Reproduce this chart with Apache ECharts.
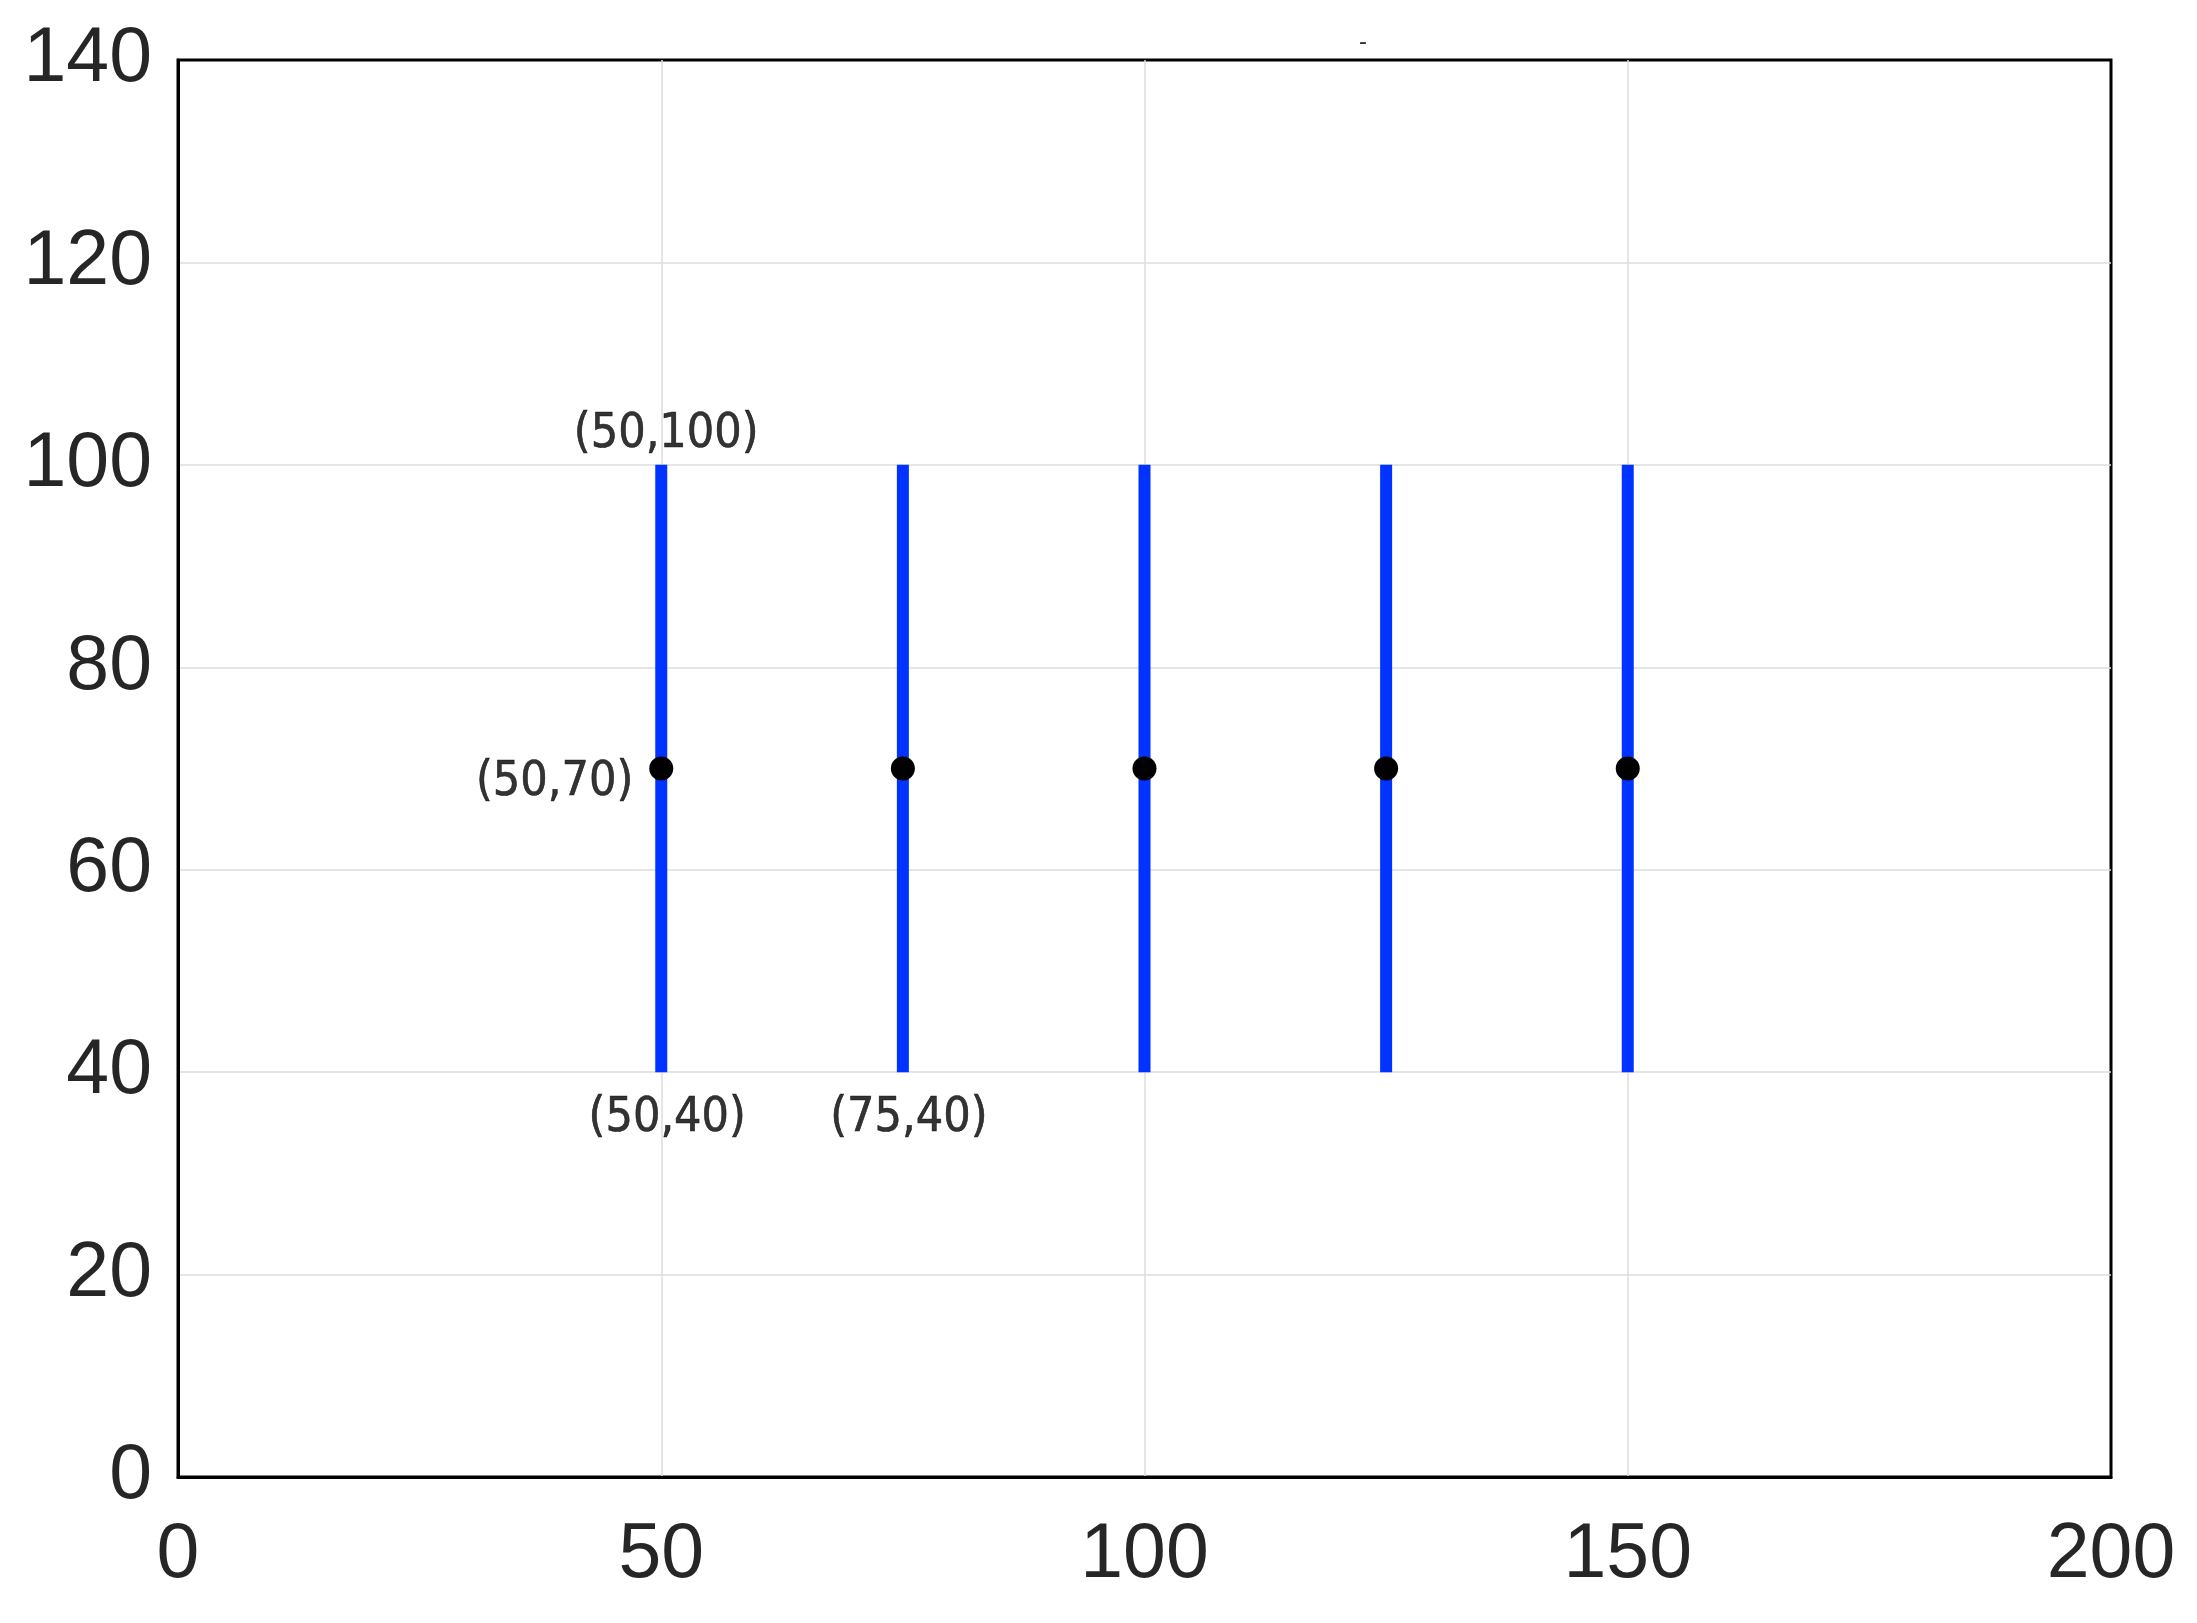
<!DOCTYPE html>
<html>
<head>
<meta charset="utf-8">
<script src="https://cdn.jsdelivr.net/npm/echarts@6/dist/echarts.min.js"></script>
<style>html,body{margin:0;padding:0;background:#fff}#c{width:2197px;height:1623px}</style>
</head>
<body>
<div id="c"></div>
<script>
// ---- data ----
const xValues = [50, 75, 100, 125, 150];
const lowValues = [40, 40, 40, 40, 40];
const midValues = [70, 70, 70, 70, 70];
const highValues = [100, 100, 100, 100, 100];
const xTicks = [0, 50, 100, 150, 200];
const yTicks = [0, 20, 40, 60, 80, 100, 120, 140];
// annotations: [x, y, text]
const annotTop = [[50, 100, '(50,100)']];
const annotLeft = [[50, 70, '(50,70)']];
const annotBottom = [[50, 40, '(50,40)'], [75, 40, '(75,40)']];

const segData = xValues.map((x, i) => [x, lowValues[i], highValues[i]]);
const dotData = xValues.map((x, i) => [x, midValues[i]]);

const annFont = { fontFamily: '"DejaVu Sans Condensed", "DejaVu Sans"', fontSize: 48, color: '#000',
  textBorderColor: '#000', textBorderWidth: 0.6 };

const chart = echarts.init(document.getElementById('c'), null, { renderer: 'canvas' });
chart.setOption({
  animation: false,
  backgroundColor: '#fff',
  title: {
    text: '-', left: 1354, top: 25,
    textStyle: { fontSize: 24, color: '#333', fontWeight: 'normal', fontFamily: 'Liberation Sans' }
  },
  grid: {
    left: 178, right: 86, top: 60, bottom: 146,
    show: true, borderColor: '#000', borderWidth: 3, backgroundColor: 'transparent'
  },
  xAxis: {
    type: 'value', min: xTicks[0], max: xTicks[xTicks.length - 1], interval: 50,
    axisLine: { show: true, lineStyle: { color: '#000', width: 3 } },
    axisTick: { show: false },
    splitLine: { show: true, showMinLine: false, showMaxLine: false, lineStyle: { color: '#dcdcdc', width: 1.5 } },
    axisLabel: { fontFamily: 'Liberation Sans', fontSize: 77, color: '#262626', margin: 40,
      formatter: v => xTicks.includes(v) ? String(v) : '' }
  },
  yAxis: {
    type: 'value', min: yTicks[0], max: yTicks[yTicks.length - 1], interval: 20,
    axisLine: { show: true, lineStyle: { color: '#000', width: 3 } },
    axisTick: { show: false },
    splitLine: { show: true, showMinLine: false, showMaxLine: false, lineStyle: { color: '#dcdcdc', width: 1.5 } },
    axisLabel: { fontFamily: 'Liberation Sans', fontSize: 77, color: '#262626', margin: 26,
      formatter: v => yTicks.includes(v) ? String(v) : '' }
  },
  series: [
    {
      type: 'custom',
      data: segData,
      encode: { x: 0, y: [1, 2] },
      renderItem: function (params, api) {
        const p1 = api.coord([api.value(0), api.value(1)]);
        const p2 = api.coord([api.value(0), api.value(2)]);
        return {
          type: 'line',
          shape: { x1: p1[0], y1: p1[1], x2: p2[0], y2: p2[1] },
          style: { stroke: '#0033ff', lineWidth: 12 }
        };
      },
      z: 3
    },
    {
      type: 'scatter',
      data: dotData,
      symbol: 'circle',
      symbolSize: 24,
      itemStyle: { color: '#000', opacity: 1 },
      z: 4
    },
    {
      type: 'scatter', data: annotTop, symbolSize: 0,
      label: { show: true, position: 'top', distance: 6, offset: [5, 0],
        formatter: p => p.data[2], ...annFont },
      z: 5
    },
    {
      type: 'scatter', data: annotLeft, symbolSize: 0,
      label: { show: true, position: 'left', distance: 28, offset: [0, 14],
        formatter: p => p.data[2], ...annFont },
      z: 5
    },
    {
      type: 'scatter', data: annotBottom, symbolSize: 0,
      label: { show: true, position: 'bottom', distance: 22, offset: [6, 0],
        formatter: p => p.data[2], ...annFont },
      z: 5
    }
  ]
});
</script>
</body>
</html>
